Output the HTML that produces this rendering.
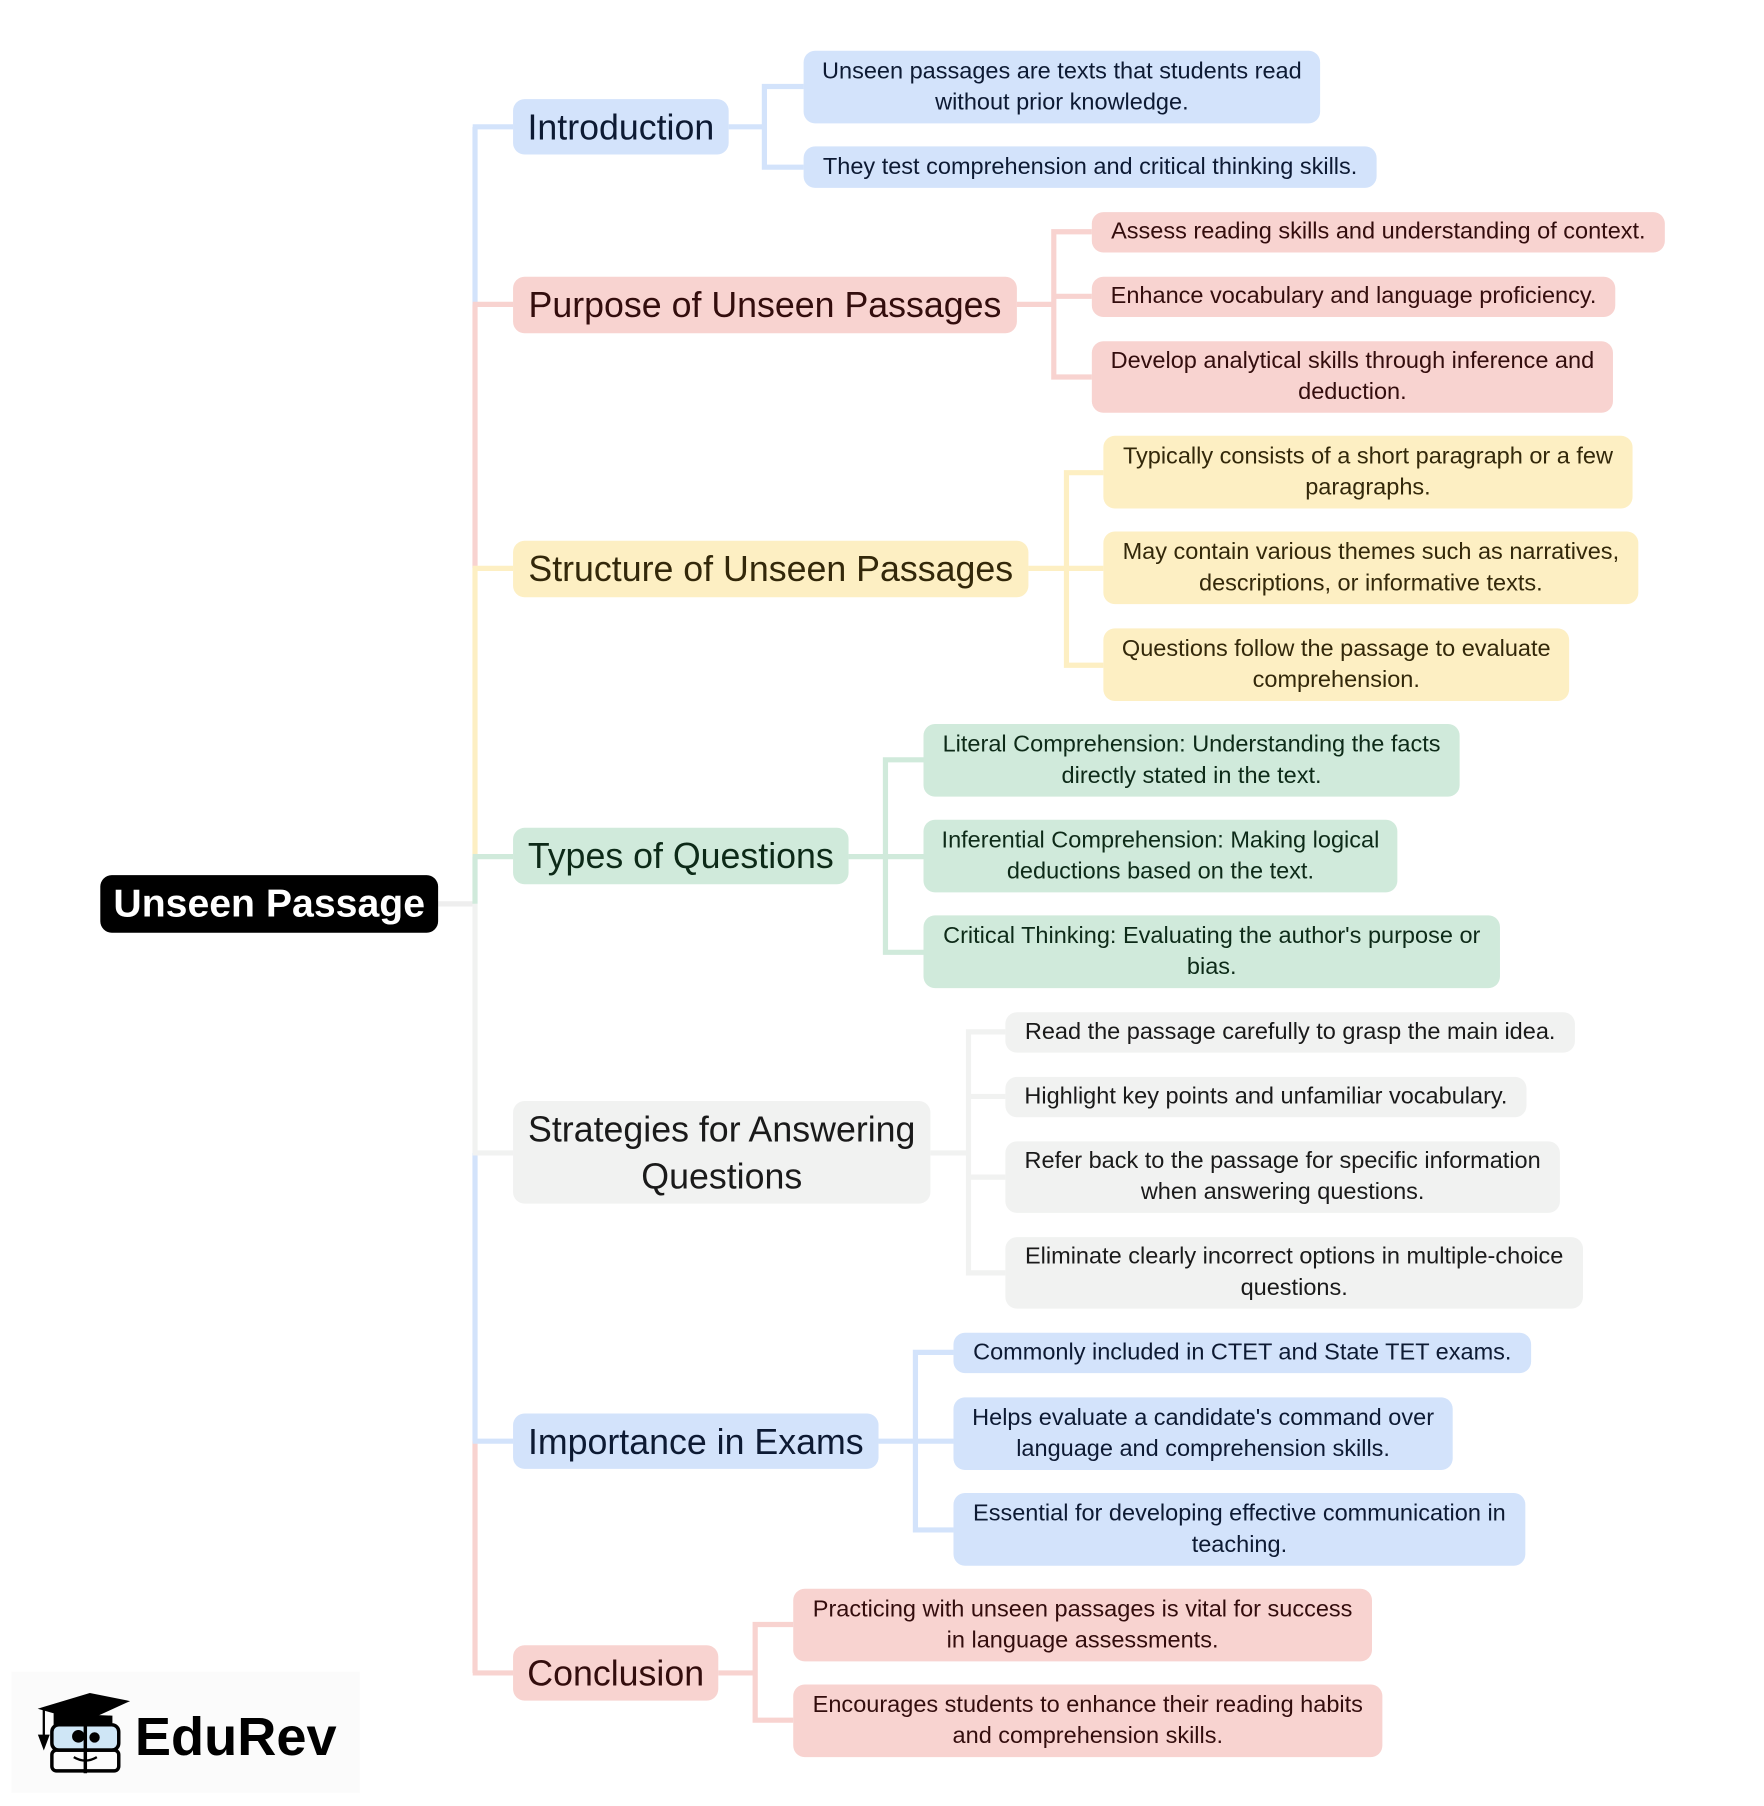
<!DOCTYPE html>
<html><head><meta charset="utf-8"><style>
html,body{margin:0;padding:0;background:#fff;width:1764px;height:1805px;overflow:hidden}
#w{position:absolute;left:0;top:0;width:1530px;height:1566px;transform:scale(1.15294);transform-origin:0 0;font-family:"Liberation Sans",Arial,sans-serif}
.n{position:absolute;box-sizing:border-box;border-radius:10px;display:flex;align-items:center;justify-content:center;text-align:center;white-space:nowrap}
.l1{font-size:31px;line-height:41px}
.c{font-size:20.4px;line-height:27px}
.b{background:#d3e3fb;color:#0d1a33}.p{background:#f8d3d0;color:#330d0d}.y{background:#fdefc3;color:#33280a}.g{background:#d0eadb;color:#0d2a18}.s{background:#f1f2f1;color:#1a1a1a}
svg{position:absolute;left:0;top:0}
</style></head><body><div id="w">
<svg width="1530" height="1566" fill="none" stroke-width="4.5">
<line x1="380" y1="784" x2="412" y2="784" stroke="#eeeeee"/>
<path d="M412 110V264" stroke="#d3e3fb"/>
<path d="M412 264V493" stroke="#f8d3d0"/>
<path d="M412 493V743" stroke="#fdefc3"/>
<path d="M412 743V784" stroke="#d0eadb"/>
<path d="M412 784V1000" stroke="#f1f2f1"/>
<path d="M412 1000V1250" stroke="#d3e3fb"/>
<path d="M412 1250V1451" stroke="#f8d3d0"/>
<path d="M410 110H445" stroke="#d3e3fb"/>
<path d="M410 264H445" stroke="#f8d3d0"/>
<path d="M410 493H445" stroke="#fdefc3"/>
<path d="M410 743H445" stroke="#d0eadb"/>
<path d="M410 1000H445" stroke="#f1f2f1"/>
<path d="M410 1250H445" stroke="#d3e3fb"/>
<path d="M410 1451H445" stroke="#f8d3d0"/>
<g stroke="#d3e3fb"><path d="M632 110H663M697 75H663V145H697"/></g>
<g stroke="#f8d3d0"><path d="M882 264H914M947 201H914V327H947M914 257H947"/></g>
<g stroke="#fdefc3"><path d="M892 493H957M957 410H925V577H957"/></g>
<g stroke="#d0eadb"><path d="M736 743H801M801 659H768V826H801"/></g>
<g stroke="#f1f2f1"><path d="M807 1000H840M872 895H840V1104H872M840 951H872M840 1021H872"/></g>
<g stroke="#d3e3fb"><path d="M762 1250H827M827 1173H794V1327H827"/></g>
<g stroke="#f8d3d0"><path d="M623 1451H655M688 1409H655V1492H688"/></g>
</svg>
<div class="n" style="left:87px;top:759px;width:293px;height:50px;background:#000;color:#fff;font-weight:bold;font-size:34px">Unseen Passage</div>
<div class="n l1 b" style="left:445px;top:86px;width:187px;height:48px">Introduction</div>
<div class="n l1 p" style="left:445px;top:240px;width:437px;height:49px">Purpose of Unseen Passages</div>
<div class="n l1 y" style="left:445px;top:469px;width:447px;height:49px">Structure of Unseen Passages</div>
<div class="n l1 g" style="left:445px;top:718px;width:291px;height:49px">Types of Questions</div>
<div class="n l1 s" style="left:445px;top:955px;width:362px;height:89px">Strategies for Answering<br>Questions</div>
<div class="n l1 b" style="left:445px;top:1226px;width:317px;height:48px">Importance in Exams</div>
<div class="n l1 p" style="left:445px;top:1427px;width:178px;height:48px">Conclusion</div>

<div class="n c b" style="left:697px;top:44px;width:448px;height:63px">Unseen passages are texts that students read<br>without prior knowledge.</div>
<div class="n c b" style="left:697px;top:127px;width:497px;height:36px">They test comprehension and critical thinking skills.</div>
<div class="n c p" style="left:947px;top:184px;width:497px;height:35px">Assess reading skills and understanding of context.</div>
<div class="n c p" style="left:947px;top:240px;width:454px;height:35px">Enhance vocabulary and language proficiency.</div>
<div class="n c p" style="left:947px;top:296px;width:452px;height:62px">Develop analytical skills through inference and<br>deduction.</div>
<div class="n c y" style="left:957px;top:378px;width:459px;height:63px">Typically consists of a short paragraph or a few<br>paragraphs.</div>
<div class="n c y" style="left:957px;top:461px;width:464px;height:63px">May contain various themes such as narratives,<br>descriptions, or informative texts.</div>
<div class="n c y" style="left:957px;top:545px;width:404px;height:63px">Questions follow the passage to evaluate<br>comprehension.</div>
<div class="n c g" style="left:801px;top:628px;width:465px;height:63px">Literal Comprehension: Understanding the facts<br>directly stated in the text.</div>
<div class="n c g" style="left:801px;top:711px;width:411px;height:63px">Inferential Comprehension: Making logical<br>deductions based on the text.</div>
<div class="n c g" style="left:801px;top:794px;width:500px;height:63px">Critical Thinking: Evaluating the author's purpose or<br>bias.</div>
<div class="n c s" style="left:872px;top:878px;width:494px;height:35px">Read the passage carefully to grasp the main idea.</div>
<div class="n c s" style="left:872px;top:934px;width:452px;height:35px">Highlight key points and unfamiliar vocabulary.</div>
<div class="n c s" style="left:872px;top:990px;width:481px;height:62px">Refer back to the passage for specific information<br>when answering questions.</div>
<div class="n c s" style="left:872px;top:1073px;width:501px;height:62px">Eliminate clearly incorrect options in multiple-choice<br>questions.</div>
<div class="n c b" style="left:827px;top:1156px;width:501px;height:35px">Commonly included in CTET and State TET exams.</div>
<div class="n c b" style="left:827px;top:1212px;width:433px;height:63px">Helps evaluate a candidate's command over<br>language and comprehension skills.</div>
<div class="n c b" style="left:827px;top:1295px;width:496px;height:63px">Essential for developing effective communication in<br>teaching.</div>
<div class="n c p" style="left:688px;top:1378px;width:502px;height:63px">Practicing with unseen passages is vital for success<br>in language assessments.</div>
<div class="n c p" style="left:688px;top:1461px;width:511px;height:63px">Encourages students to enhance their reading habits<br>and comprehension skills.</div>

<div style="position:absolute;left:10px;top:1450px;width:302px;height:105px;background:#fbfbfb"></div>
<svg width="90" height="80" style="left:28px;top:1466px" viewBox="0 0 90 80" fill="none" stroke="#000" stroke-width="3">
<path d="M10 16L50 4L80 10L45 26Z" fill="#000"/>
<path d="M10 16V40" stroke-width="2"/><path d="M7 40L10 48L13 40Z" fill="#000"/>
<path d="M20 20V30H68V22" fill="#000"/>
<rect x="17" y="30" width="58" height="22" rx="6" fill="#cfe6f6"/>
<rect x="17" y="52" width="58" height="18" rx="4"/>
<path d="M46 30V72"/>
<circle cx="40" cy="40" r="4" fill="#000"/><circle cx="54" cy="41" r="3" fill="#000"/>
<path d="M36 58Q46 64 56 58" stroke-width="2"/>
</svg>
<div style="position:absolute;left:117px;top:1478px;font-size:47px;font-weight:bold;line-height:56px;color:#000;font-family:'Liberation Sans',sans-serif">EduRev</div>
</div></body></html>
